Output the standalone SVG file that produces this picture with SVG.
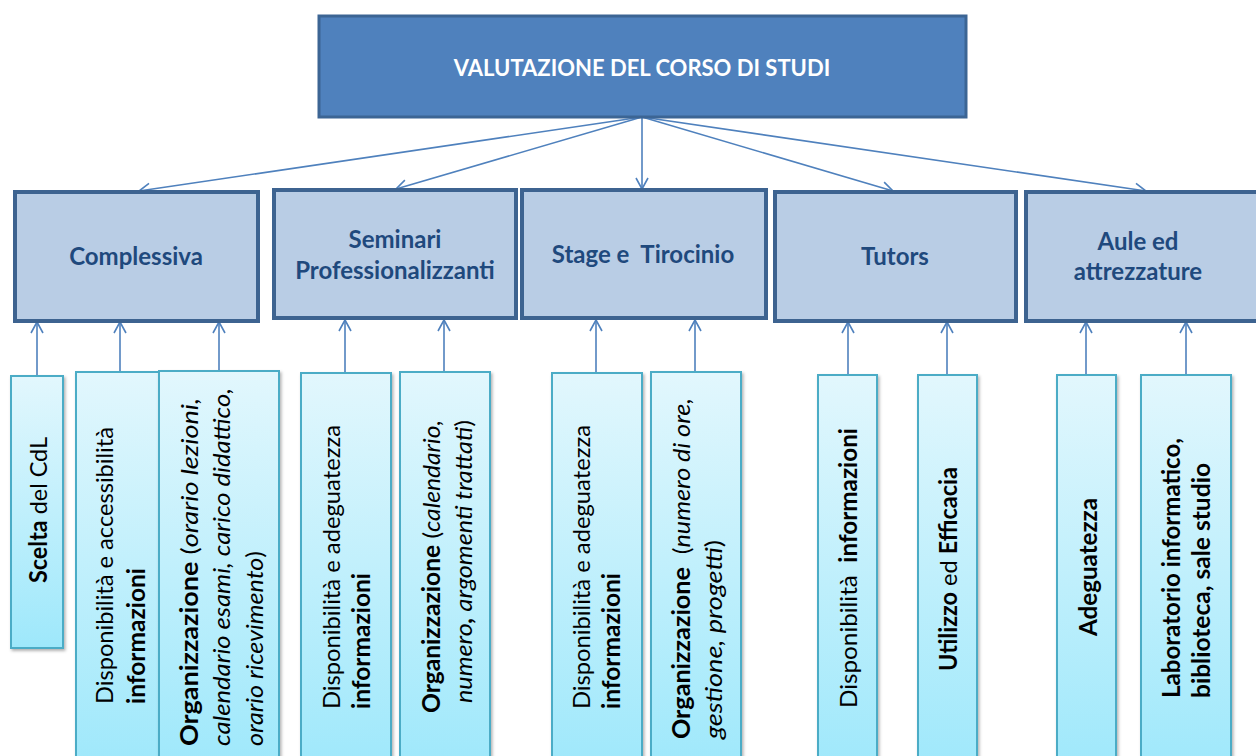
<svg xmlns="http://www.w3.org/2000/svg" width="1256" height="756" viewBox="0 0 1256 756">
<defs>
<linearGradient id="lg" x1="0" y1="0" x2="0" y2="1">
<stop offset="0" stop-color="#E2F7FD"/>
<stop offset="1" stop-color="#9EE8FB"/>
</linearGradient>
<filter id="sh" x="-20%" y="-5%" width="140%" height="110%">
<feDropShadow dx="1.5" dy="2" stdDeviation="1.5" flood-color="#000" flood-opacity="0.3"/>
</filter>
<marker id="ah" markerUnits="userSpaceOnUse" markerWidth="14" markerHeight="16" refX="12" refY="7" orient="auto" viewBox="0 0 14 14">
<path d="M1,1 L12,7 L1,13" fill="none" stroke="#4F81BD" stroke-width="1.6"/>
</marker>
<style>
.top{fill:#4F81BD;stroke:#3C6594;stroke-width:3}
.mid{fill:#B9CDE5;stroke:#3D6390;stroke-width:4}
.leaf{fill:url(#lg);stroke:#4BACC6;stroke-width:2;filter:url(#sh)}
.con{stroke:#4F81BD;stroke-width:1.6;fill:none;marker-end:url(#ah)}
.tt{font-family:Lato,"Liberation Sans",sans-serif;font-weight:bold;font-size:22px;fill:#fff;text-anchor:middle}
.mt{font-family:Lato,"Liberation Sans",sans-serif;font-weight:bold;font-size:24px;fill:#1F497D;text-anchor:middle}
.lt{font-family:Lato,"Liberation Sans",sans-serif;font-size:24px;fill:#000}
.b{font-weight:bold}
.i{font-style:italic}
</style>
</defs>
<g id="connectors">
<line class="con" x1="642" y1="117" x2="139" y2="191"/>
<line class="con" x1="642" y1="117" x2="396" y2="189"/>
<line class="con" x1="642" y1="117" x2="642" y2="189"/>
<line class="con" x1="642" y1="117" x2="893" y2="191"/>
<line class="con" x1="642" y1="117" x2="1146" y2="191"/>
<line class="con" x1="37" y1="376" x2="37" y2="322"/>
<line class="con" x1="120" y1="372" x2="120" y2="322"/>
<line class="con" x1="219" y1="371" x2="219" y2="322"/>
<line class="con" x1="345" y1="373" x2="345" y2="320"/>
<line class="con" x1="444" y1="372" x2="444" y2="320"/>
<line class="con" x1="596" y1="373" x2="596" y2="320"/>
<line class="con" x1="695" y1="372" x2="695" y2="320"/>
<line class="con" x1="848" y1="375" x2="848" y2="322"/>
<line class="con" x1="947" y1="375" x2="947" y2="322"/>
<line class="con" x1="1086" y1="375" x2="1086" y2="322"/>
<line class="con" x1="1186" y1="375" x2="1186" y2="322"/>
</g>
<g id="root">
<rect class="top" x="319" y="16" width="647" height="101"/>
<text class="tt" x="642" y="76">VALUTAZIONE DEL CORSO DI STUDI</text>
</g>
<g id="complessiva">
<rect class="mid" x="15" y="192" width="243" height="129"/>
<text class="mt" x="136" y="265">Complessiva</text>
</g>
<g id="seminari">
<rect class="mid" x="274" y="190" width="242" height="128"/>
<text class="mt" x="395" y="248">Seminari</text>
<text class="mt" x="395" y="279">Professionalizzanti</text>
</g>
<g id="stage">
<rect class="mid" x="522" y="190" width="244" height="128"/>
<text class="mt" x="643" y="263" xml:space="preserve">Stage e  Tirocinio</text>
</g>
<g id="tutors">
<rect class="mid" x="775" y="192" width="241" height="129"/>
<text class="mt" x="895" y="265">Tutors</text>
</g>
<g id="aule">
<rect class="mid" x="1026" y="192" width="240" height="129"/>
<text class="mt" x="1138" y="250">Aule ed</text>
<text class="mt" x="1138" y="280">attrezzature</text>
</g>
<g id="scelta">
<rect class="leaf" x="11" y="376" width="52" height="272"/>
<text class="lt" transform="translate(47,583) rotate(-90)" textLength="146" lengthAdjust="spacingAndGlyphs"><tspan class="b">Scelta</tspan> del CdL</text>
</g>
<g id="disp-acc">
<rect class="leaf" x="76" y="372" width="83" height="400"/>
<text class="lt" transform="translate(113,704) rotate(-90)" textLength="277" lengthAdjust="spacingAndGlyphs">Disponibilità e accessibilità</text>
<text class="lt b" transform="translate(145,704) rotate(-90)" textLength="136" lengthAdjust="spacingAndGlyphs">informazioni</text>
</g>
<g id="org-compl">
<rect class="leaf" x="159" y="371" width="120" height="400"/>
<text class="lt" transform="translate(198,746) rotate(-90)" textLength="348" lengthAdjust="spacingAndGlyphs"><tspan class="b">Organizzazione</tspan> (<tspan class="i">orario lezioni,</tspan></text>
<text class="lt i" transform="translate(230,746) rotate(-90)" textLength="358" lengthAdjust="spacingAndGlyphs">calendario esami, carico didattico,</text>
<text class="lt" transform="translate(263,746) rotate(-90)" textLength="195" lengthAdjust="spacingAndGlyphs"><tspan class="i">orario ricevimento</tspan>)</text>
</g>
<g id="disp-sem">
<rect class="leaf" x="301" y="373" width="90" height="400"/>
<text class="lt" transform="translate(340,709) rotate(-90)" textLength="284" lengthAdjust="spacingAndGlyphs">Disponibilità e adeguatezza</text>
<text class="lt b" transform="translate(370,709) rotate(-90)" textLength="136" lengthAdjust="spacingAndGlyphs">informazioni</text>
</g>
<g id="org-sem">
<rect class="leaf" x="400" y="372" width="90" height="400"/>
<text class="lt" transform="translate(440,713) rotate(-90)" textLength="293" lengthAdjust="spacingAndGlyphs"><tspan class="b">Organizzazione</tspan> (<tspan class="i">calendario,</tspan></text>
<text class="lt i" transform="translate(472,703) rotate(-90)" textLength="283" lengthAdjust="spacingAndGlyphs">numero<tspan class="b">,</tspan> argomenti trattati<tspan font-style="normal">)</tspan></text>
</g>
<g id="disp-stage">
<rect class="leaf" x="552" y="373" width="90" height="400"/>
<text class="lt" transform="translate(590,709) rotate(-90)" textLength="284" lengthAdjust="spacingAndGlyphs">Disponibilità e adeguatezza</text>
<text class="lt b" transform="translate(620,709) rotate(-90)" textLength="136" lengthAdjust="spacingAndGlyphs">informazioni</text>
</g>
<g id="org-stage">
<rect class="leaf" x="651" y="372" width="90" height="400"/>
<text class="lt" transform="translate(690,739) rotate(-90)" xml:space="preserve" textLength="341" lengthAdjust="spacingAndGlyphs"><tspan class="b">Organizzazione</tspan>  (<tspan class="i">numero di ore,</tspan></text>
<text class="lt i" transform="translate(722,739) rotate(-90)" textLength="199" lengthAdjust="spacingAndGlyphs">gestione, progetti<tspan font-style="normal">)</tspan></text>
</g>
<g id="disp-tutors">
<rect class="leaf" x="818" y="375" width="59" height="400"/>
<text class="lt" transform="translate(857,708) rotate(-90)" xml:space="preserve" textLength="280" lengthAdjust="spacingAndGlyphs">Disponibilità  <tspan class="b">informazioni</tspan></text>
</g>
<g id="utilizzo">
<rect class="leaf" x="918" y="375" width="59" height="400"/>
<text class="lt" transform="translate(957,671) rotate(-90)" textLength="204" lengthAdjust="spacingAndGlyphs"><tspan class="b">Utilizzo</tspan> ed <tspan class="b">Efficacia</tspan></text>
</g>
<g id="adeguatezza">
<rect class="leaf" x="1057" y="375" width="59" height="400"/>
<text class="lt b" transform="translate(1097,636) rotate(-90)" textLength="138" lengthAdjust="spacingAndGlyphs">Adeguatezza</text>
</g>
<g id="laboratorio">
<rect class="leaf" x="1141" y="375" width="90" height="400"/>
<text class="lt b" transform="translate(1180,698) rotate(-90)" textLength="260" lengthAdjust="spacingAndGlyphs">Laboratorio informatico,</text>
<text class="lt b" transform="translate(1210,698) rotate(-90)" textLength="235" lengthAdjust="spacingAndGlyphs">biblioteca, sale studio</text>
</g>
</svg>
